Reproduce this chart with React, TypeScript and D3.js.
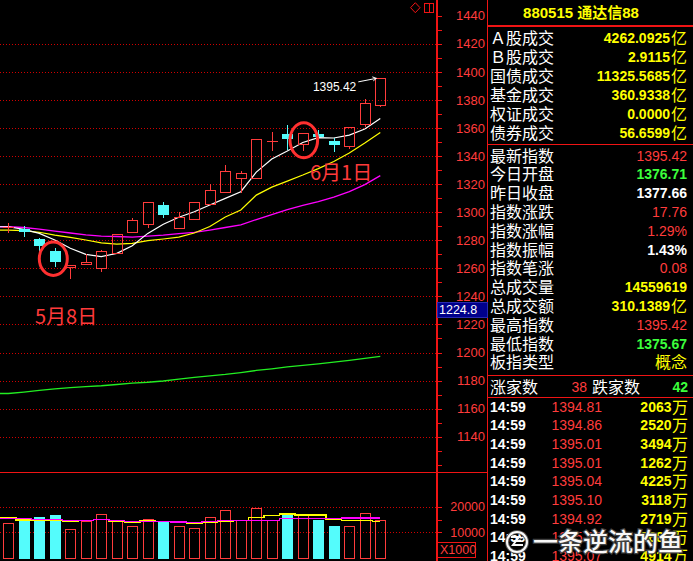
import React from "react";
import * as d3 from "d3";

// ---------- data ----------
const dates = [
  "04-30", "05-06", "05-07", "05-08", "05-11", "05-12", "05-13", "05-14", "05-15",
  "05-18", "05-19", "05-20", "05-21", "05-22", "05-25", "05-26", "05-27", "05-28",
  "05-29", "06-01", "06-02", "06-03", "06-04", "06-05", "06-08",
];
const opens = [1289.4, 1287.8, 1281.1, 1272.5, 1260.7, 1262.9, 1260.4, 1271.1, 1286.1, 1291.4, 1305.1, 1288.9, 1295.4, 1305.6, 1314.2, 1324.6, 1324.1, 1350.6, 1355.7, 1348.8, 1355.7, 1350.7, 1347.0, 1362.6, 1376.71];
const highs = [1292.1, 1290.2, 1281.3, 1274.7, 1262.4, 1270.2, 1273.0, 1284.2, 1296.1, 1307.0, 1307.3, 1300.1, 1307.0, 1320.1, 1333.6, 1329.4, 1351.9, 1356.9, 1362.1, 1356.2, 1358.6, 1353.1, 1360.7, 1380.5, 1395.42];
const lows = [1286.2, 1283.2, 1272.5, 1261.9, 1252.9, 1262.9, 1258.3, 1271.1, 1286.1, 1289.7, 1296.8, 1288.9, 1295.4, 1305.6, 1314.2, 1314.6, 1324.1, 1344.3, 1344.8, 1344.3, 1353.4, 1343.6, 1345.5, 1361.4, 1375.67];
const closes = [1289.8, 1285.7, 1276.1, 1264.7, 1262.4, 1264.3, 1272.1, 1284.2, 1294.2, 1307.0, 1298.0, 1296.4, 1307.0, 1315.6, 1329.1, 1327.7, 1351.9, 1350.8, 1352.2, 1356.2, 1353.4, 1347.9, 1360.7, 1377.66, 1395.42];

const ma5 = [1289.65, 1287.8, 1284.9, 1280.2, 1274.3, 1270.0, 1268.3, 1270.7, 1276.1, 1284.9, 1291.4, 1296.4, 1300.3, 1305.1, 1309.9, 1314.6, 1328.6, 1337.9, 1343.6, 1349.7, 1353.2, 1352.9, 1355.0, 1359.3, 1366.8];
const ma10 = [1287.3, 1286.9, 1285.7, 1283.7, 1282.1, 1280.2, 1278.2, 1277.3, 1277.8, 1279.7, 1280.9, 1282.3, 1285.2, 1289.8, 1296.6, 1301.6, 1312.2, 1317.9, 1322.2, 1326.5, 1331.1, 1336.1, 1342.2, 1349.3, 1356.8];
const ma20 = [1289.65, 1289.1, 1288.0, 1286.6, 1285.2, 1283.8, 1283.0, 1282.7, 1282.3, 1283.0, 1283.7, 1284.8, 1285.7, 1287.3, 1289.1, 1290.9, 1294.8, 1298.3, 1301.9, 1304.8, 1307.6, 1310.8, 1314.7, 1319.7, 1326.1];
const ma60 = [1170.8, 1171.8, 1173.0, 1174.1, 1175.0, 1175.7, 1176.3, 1177.2, 1178.2, 1178.8, 1179.7, 1181.1, 1182.3, 1183.4, 1184.4, 1185.7, 1187.2, 1188.4, 1189.7, 1190.9, 1191.9, 1193.1, 1194.4, 1195.9, 1197.3];

const volumes = [13500, 14400, 16000, 16800, 11200, 14400, 17100, 14400, 12500, 15100, 14300, 12500, 11600, 15900, 18700, 14700, 19400, 14700, 17500, 17100, 14800, 12500, 12500, 17500, 14700];
const volMa5 = [15700, 14800, 14700, 14700, 14300, 14700, 15100, 14400, 14000, 14550, 14300, 13750, 13400, 14000, 14400, 14550, 15850, 16500, 17150, 16750, 16750, 15200, 14700, 14700, 14300];
const volMa10 = [15450, 15300, 15100, 15100, 14550, 14550, 15100, 14700, 14300, 14300, 14300, 14000, 13750, 14150, 14700, 14700, 14700, 14700, 15450, 15450, 15450, 15450, 15600, 15600, 15600];

const priceLabels = [1440, 1420, 1400, 1380, 1360, 1340, 1320, 1300, 1280, 1260, 1240, 1220, 1200, 1180, 1160, 1140];
const gridPrices = [1420, 1400, 1380, 1360, 1340, 1320, 1300, 1280, 1260, 1240, 1220, 1200, 1180, 1160, 1140];
const volLabels = [20000, 10000];
const volTicks = [20000, 15000, 10000];
const cursorPrice = "1224.8";

const headerTitle = "880515 通达信88";
const turnoverLabels = ["Ａ股成交", "Ｂ股成交", "国债成交", "基金成交", "权证成交", "债券成交"];
const turnoverValues = ["4262.0925", "2.9115", "11325.5685", "360.9338", "0.0000", "56.6599"];
const indexLabels = ["最新指数", "今日开盘", "昨日收盘", "指数涨跌", "指数涨幅", "指数振幅", "指数笔涨", "总成交量", "总成交额", "最高指数", "最低指数", "板指类型"];
const indexValues = ["1395.42", "1376.71", "1377.66", "17.76", "1.29%", "1.43%", "0.08", "14559619", "310.1389", "1395.42", "1375.67", "概念"];
const indexUnits = ["", "", "", "", "", "", "", "", "亿", "", "", ""];
const upCount = "38";
const downCount = "42";
const tickTimes = ["14:59", "14:59", "14:59", "14:59", "14:59", "14:59", "14:59", "14:59", "14:59"];
const tickPrices = ["1394.81", "1394.86", "1395.01", "1395.01", "1395.04", "1395.10", "1394.92", "1395.17", "1395.07"];
const tickVols = ["2063", "2520", "3494", "1262", "4225", "3118", "2719", "2688", "4914"];

// ---------- style ----------
const RED = "#ff3c3c";
const CYAN = "#54fcfc";
const AXIS = "#f01414";
const GRID = "#d00000";
const YELLOW = "#ffff00";
const GREEN = "#3cff3c";
const WHITE = "#ffffff";
const indexColors = [RED, GREEN, WHITE, RED, RED, WHITE, RED, YELLOW, YELLOW, RED, GREEN, YELLOW];
const NUM = "'Liberation Sans', Arial, sans-serif";
const CJK = "'Noto Sans CJK SC', 'Liberation Sans', sans-serif";
const MIX = "'Liberation Sans', 'Noto Sans CJK SC', sans-serif";

export default function App() {
  const W = 693, H = 561;
  const plotRight = 437;
  const panelLeft = 487.5;

  const x = d3.scalePoint<string>().domain(dates).range([8.3, 380.3]);
  const y = d3.scaleLinear().domain([1140, 1440]).range([436.7, 15.8]);
  const yv = d3.scaleLinear().domain([0, 20000]).range([557.9, 506.7]);

  const cxOf = (i: number) => Math.round(x(dates[i]) as number);

  const maPath = (vals: number[]) => {
    const pts: [number, number][] = vals.map((v, i) => [x(dates[i]) as number, y(v)]);
    pts.unshift([0, pts[0][1]]);
    return d3.line()(pts) || "";
  };
  const volMaPath = (vals: number[]) => {
    const pts: [number, number][] = vals.map((v, i) => [x(dates[i]) as number, yv(v)]);
    pts.unshift([0, pts[0][1]]);
    return d3.line().curve(d3.curveStep)(pts) || "";
  };

  const axisTicks = d3.range(1120, 1441, 10).filter((p) => y(p) < 470);

  const last = dates.length - 1;
  const lastCx = x(dates[last]) as number;
  const hiY = y(highs[last]);

  const c1 = 3, c2 = 19;
  const ell1 = { cx: (x(dates[c1]) as number) - 1.5, cy: (y(highs[c1]) + y(lows[c1])) / 2 + 2, rx: 14, ry: 16.7 };
  const ell2 = { cx: (x(dates[c2]) as number) + 1, cy: (y(highs[c2]) + y(lows[c2])) / 2 - 1.5, rx: 13.8, ry: 17.5 };

  const rowTop = (i: number) => 37.5 + i * 19.05;
  const rowIdx = (i: number) => 155.5 + i * 18.8;
  const rowTick = (i: number) => 406.5 + i * 18.7;

  return (
    <svg width={W} height={H} style={{ position: "absolute", left: 0, top: 0, background: "#000" }}>
      <rect x={0} y={0} width={W} height={H} fill="#000" />

      {/* grid lines */}
      <g shapeRendering="crispEdges">
        {gridPrices.map((p) => (
          <line key={p} x1={0} x2={plotRight - 1} y1={Math.round(y(p)) + 0.5} y2={Math.round(y(p)) + 0.5} stroke={GRID} strokeDasharray="1 2" />
        ))}
        {volLabels.map((v) => (
          <line key={v} x1={0} x2={plotRight - 1} y1={Math.round(yv(v)) + 0.5} y2={Math.round(yv(v)) + 0.5} stroke={GRID} strokeDasharray="1 2" />
        ))}
      </g>

      {/* moving averages */}
      <path d={maPath(ma60)} fill="none" stroke="#22ee22" strokeWidth={1.3} />
      <path d={maPath(ma20)} fill="none" stroke="#ff00ff" strokeWidth={1.3} />
      <path d={maPath(ma10)} fill="none" stroke={YELLOW} strokeWidth={1.2} />
      <path d={maPath(ma5)} fill="none" stroke={WHITE} strokeWidth={1.2} />

      {/* candles */}
      <g shapeRendering="crispEdges">
        {dates.map((d, i) => {
          const cx = cxOf(i);
          const o = opens[i], c = closes[i];
          const up = c >= o;
          const top = Math.round(y(Math.max(o, c)));
          const bot = Math.round(y(Math.min(o, c)));
          const yh = Math.round(y(highs[i]));
          const yl = Math.round(y(lows[i]));
          if (up) {
            return (
              <g key={d}>
                {yh < top && <line x1={cx + 0.5} x2={cx + 0.5} y1={yh} y2={top} stroke={RED} />}
                {yl > bot && <line x1={cx + 0.5} x2={cx + 0.5} y1={bot} y2={yl + 1} stroke={RED} />}
                {bot - top < 1 ? (
                  <line x1={cx - 5} x2={cx + 6} y1={top + 0.5} y2={top + 0.5} stroke={RED} />
                ) : (
                  <rect x={cx - 5 + 0.5} y={top + 0.5} width={10} height={bot - top} fill="none" stroke={RED} />
                )}
              </g>
            );
          }
          return (
            <g key={d}>
              <line x1={cx + 0.5} x2={cx + 0.5} y1={yh} y2={yl + 1} stroke={CYAN} />
              <rect x={cx - 5} y={top} width={11} height={Math.max(bot - top, 1)} fill={CYAN} />
            </g>
          );
        })}
      </g>

      {/* highlight ellipses */}
      <ellipse cx={ell1.cx} cy={ell1.cy} rx={ell1.rx} ry={ell1.ry} fill="none" stroke="#ff3030" strokeWidth={3} />
      <ellipse cx={ell2.cx} cy={ell2.cy} rx={ell2.rx} ry={ell2.ry} fill="none" stroke="#ff3030" strokeWidth={3} />

      {/* annotations */}
      <text x={35} y={323.7} fill="#ff3a3a" fontSize={20} fontFamily={CJK}>5月8日</text>
      <text x={310} y={179.7} fill="#ff3a3a" fontSize={20} fontFamily={CJK}>6月1日</text>

      <text x={lastCx - 24} y={hiY + 12.2} fill={WHITE} fontSize={12} fontFamily={NUM} textAnchor="end">
        {highs[last].toFixed(2)}
      </text>
      <line x1={lastCx - 22} y1={hiY + 3.5} x2={lastCx - 4} y2={hiY} stroke={WHITE} strokeWidth={1} />
      <polyline points={`${lastCx - 8},${hiY - 1.5} ${lastCx - 4},${hiY} ${lastCx - 7},${hiY + 2.5}`} fill="none" stroke={WHITE} strokeWidth={1} />

      {/* volume bars */}
      <g shapeRendering="crispEdges">
        {dates.map((d, i) => {
          const cx = cxOf(i);
          const up = closes[i] >= opens[i];
          const top = Math.round(yv(volumes[i]));
          const base = Math.round(yv(0));
          return up ? (
            <rect key={d} x={cx - 5 + 0.5} y={top + 0.5} width={10} height={base - top} fill="none" stroke={RED} />
          ) : (
            <rect key={d} x={cx - 5} y={top} width={11} height={base - top + 1} fill={CYAN} />
          );
        })}
      </g>
      <path d={volMaPath(volMa5)} fill="none" stroke={YELLOW} strokeWidth={1.3} shapeRendering="crispEdges" />
      <path d={volMaPath(volMa10)} fill="none" stroke="#ff00ff" strokeWidth={1.3} shapeRendering="crispEdges" />

      {/* frame lines */}
      <g shapeRendering="crispEdges">
        <line x1={plotRight} x2={plotRight} y1={0} y2={H} stroke={AXIS} strokeWidth={2} />
        <line x1={0} x2={panelLeft} y1={472.5} y2={472.5} stroke={AXIS} strokeWidth={1.5} />
        <line x1={panelLeft} x2={panelLeft} y1={0} y2={H} stroke={AXIS} strokeWidth={1.5} />
        <line x1={panelLeft} x2={W} y1={26} y2={26} stroke={AXIS} strokeWidth={1.5} />
        <line x1={panelLeft} x2={W} y1={144.5} y2={144.5} stroke={AXIS} strokeWidth={1.5} />
        <line x1={panelLeft} x2={W} y1={375.5} y2={375.5} stroke={AXIS} strokeWidth={1.5} />
        <line x1={panelLeft} x2={W} y1={397.5} y2={397.5} stroke={AXIS} strokeWidth={1.5} />
        {axisTicks.map((p) => (
          <line key={p} x1={plotRight} x2={plotRight + 5} y1={Math.round(y(p)) + 0.5} y2={Math.round(y(p)) + 0.5} stroke={AXIS} />
        ))}
        {volTicks.map((v) => (
          <line key={v} x1={plotRight} x2={plotRight + 5} y1={Math.round(yv(v)) + 0.5} y2={Math.round(yv(v)) + 0.5} stroke={AXIS} />
        ))}
      </g>

      {/* top icons */}
      <path d="M415.3,2.7 L420,7.7 L415.3,12.7 L410.6,7.7 Z" fill="none" stroke={AXIS} strokeWidth={1} />
      <rect x={424.5} y={3.5} width={9} height={9} fill="none" stroke={AXIS} strokeWidth={1} shapeRendering="crispEdges" />
      <line x1={429.5} x2={429.5} y1={3.5} y2={12.5} stroke={AXIS} strokeWidth={1} shapeRendering="crispEdges" />

      {/* price labels */}
      {priceLabels.map((p) => (
        <text key={p} x={485} y={y(p) + 4.6} fill={RED} fontSize={13} fontFamily={NUM} textAnchor="end">{p}</text>
      ))}
      {volLabels.map((v) => (
        <text key={v} x={485} y={yv(v) + 4.4} fill={RED} fontSize={12.5} fontFamily={NUM} textAnchor="end">{v}</text>
      ))}
      <rect x={437.5} y={542.5} width={38} height={15} fill="none" stroke={AXIS} strokeWidth={1} shapeRendering="crispEdges" />
      <text x={440} y={554.3} fill={RED} fontSize={12.5} fontFamily={NUM}>X1000</text>

      {/* cursor price box */}
      <rect x={437.5} y={302} width={50} height={15} fill="#00008c" stroke="#2a2ab0" strokeWidth={1} shapeRendering="crispEdges" />
      <text x={439} y={314.2} fill={WHITE} fontSize={12.5} fontFamily={NUM}>{cursorPrice}</text>

      {/* right panel */}
      <text x={581} y={17.8} fill={YELLOW} fontSize={15} fontWeight="bold" fontFamily={MIX} textAnchor="middle">{headerTitle}</text>

      {turnoverLabels.map((l, i) => (
        <g key={l}>
          <text x={490} y={rowTop(i) + 6} fill={WHITE} fontSize={16} fontFamily={CJK}>{l}</text>
          <text x={670} y={rowTop(i) + 5} fill={YELLOW} fontSize={14} fontWeight="bold" fontFamily={NUM} textAnchor="end">{turnoverValues[i]}</text>
          <text x={671} y={rowTop(i) + 6} fill={YELLOW} fontSize={16} fontFamily={CJK}>亿</text>
        </g>
      ))}

      {indexLabels.map((l, i) => {
        const isCjkVal = /[\u4e00-\u9fff]/.test(indexValues[i]);
        const unit = indexUnits[i];
        const red = indexColors[i] === RED;
        return (
          <g key={l + i}>
            <text x={490} y={rowIdx(i) + 6} fill={WHITE} fontSize={16} fontFamily={CJK}>{l}</text>
            {isCjkVal ? (
              <text x={687} y={rowIdx(i) + 6} fill={indexColors[i]} fontSize={16} fontFamily={CJK} textAnchor="end">{indexValues[i]}</text>
            ) : (
              <text x={unit ? 670 : 687} y={rowIdx(i) + 5} fill={indexColors[i]} fontSize={14} fontWeight={red ? "normal" : "bold"} fontFamily={NUM} textAnchor="end">{indexValues[i]}</text>
            )}
            {unit && <text x={671} y={rowIdx(i) + 6} fill={indexColors[i]} fontSize={16} fontFamily={CJK}>{unit}</text>}
          </g>
        );
      })}

      <text x={490} y={387 + 6} fill={WHITE} fontSize={16} fontFamily={CJK}>涨家数</text>
      <text x={587} y={387 + 5} fill={RED} fontSize={14} fontFamily={NUM} textAnchor="end">{upCount}</text>
      <text x={592} y={387 + 6} fill={WHITE} fontSize={16} fontFamily={CJK}>跌家数</text>
      <text x={688} y={387 + 5} fill={GREEN} fontSize={14} fontWeight="bold" fontFamily={NUM} textAnchor="end">{downCount}</text>

      {tickTimes.map((t, i) => (
        <g key={i}>
          <text x={490} y={rowTick(i) + 5} fill={WHITE} fontSize={14} fontWeight="bold" fontFamily={NUM}>{t}</text>
          <text x={602} y={rowTick(i) + 5} fill={RED} fontSize={14} fontFamily={NUM} textAnchor="end">{tickPrices[i]}</text>
          <text x={671.5} y={rowTick(i) + 5} fill={YELLOW} fontSize={14} fontWeight="bold" fontFamily={NUM} textAnchor="end">{tickVols[i]}</text>
          <text x={672} y={rowTick(i) + 6} fill={YELLOW} fontSize={16} fontFamily={CJK}>万</text>
        </g>
      ))}

      {/* watermark */}
      <g opacity={0.97}>
        <circle cx={517} cy={542} r={10} fill="none" stroke="#555" strokeWidth={4} />
        <circle cx={517} cy={542} r={10} fill="none" stroke={WHITE} strokeWidth={2} />
        <path d="M511,537 L519,537 L513,545 L523,545 M514,541 L521,541" fill="none" stroke={WHITE} strokeWidth={2} />
        <text x={533} y={550.5} fill={WHITE} stroke="#444" strokeWidth={2.5} paintOrder="stroke" fontSize={25} fontWeight={500} fontFamily={CJK}>一条逆流的鱼</text>
      </g>
    </svg>
  );
}
